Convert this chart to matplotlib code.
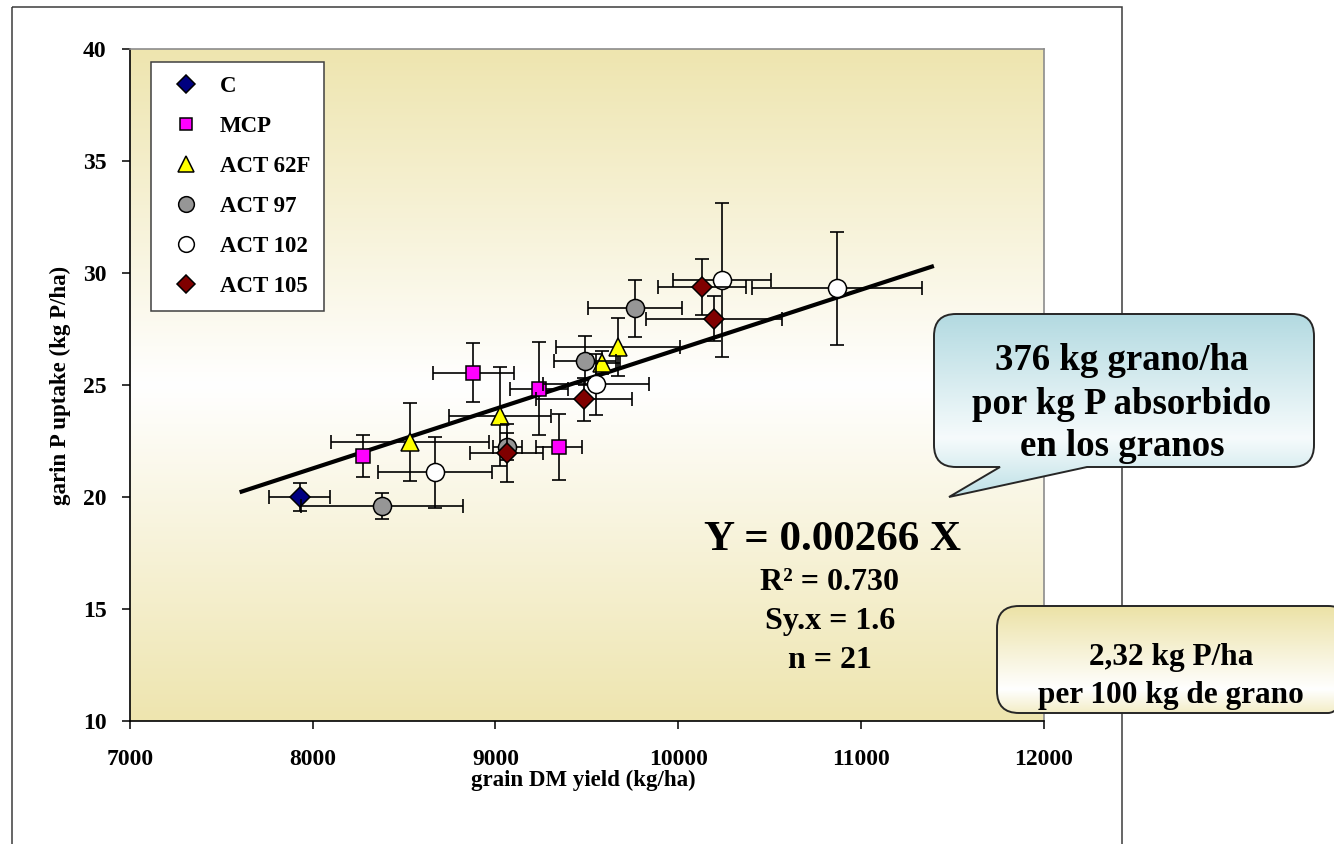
import numpy as np
import matplotlib
matplotlib.use("Agg")
import matplotlib.pyplot as plt
from matplotlib.colors import LinearSegmentedColormap
from matplotlib.path import Path
from matplotlib.patches import PathPatch, Rectangle
from matplotlib.lines import Line2D

# ---------------- data ----------------
series_names = ["C", "MCP", "ACT 62F", "ACT 97", "ACT 102", "ACT 105"]

c_x = [7930]
c_y = [20.0]
c_xerr = [167]
c_yerr = [0.62]

mcp_x = [8277, 8879, 9240, 9350]
mcp_y = [21.84, 25.56, 24.85, 22.25]
mcp_xerr = [30, 223, 158, 126]
mcp_yerr = [0.93, 1.33, 2.06, 1.47]

act62_x = [8533, 9025, 9582, 9673]
act62_y = [22.45, 23.6, 26.0, 26.71]
act62_xerr = [432, 278, 100, 340]
act62_yerr = [1.75, 2.2, 0.52, 1.31]

act97_x = [8378, 9065, 9490, 9764]
act97_y = [19.6, 22.25, 26.1, 28.43]
act97_xerr = [443, 80, 168, 256]
act97_yerr = [0.57, 0.6, 1.1, 1.26]

act102_x = [8669, 9549, 10239, 10871]
act102_y = [21.1, 25.03, 29.7, 29.33]
act102_xerr = [312, 290, 268, 465]
act102_yerr = [1.6, 1.37, 3.44, 2.53]

act105_x = [9062, 9485, 10132, 10196]
act105_y = [21.96, 24.37, 29.37, 27.96]
act105_xerr = [200, 262, 240, 374]
act105_yerr = [1.3, 0.96, 1.25, 1.0]

trend_x = [7600, 11400]
trend_slope = 0.00266

x_ticks = [7000, 8000, 9000, 10000, 11000, 12000]
y_ticks = [10, 15, 20, 25, 30, 35, 40]

eq_lines = ["Y = 0.00266 X", "R\u00b2 = 0.730", "Sy.x = 1.6", "n = 21"]
callout1_lines = ["376 kg grano/ha", "por kg P absorbido", "en los granos"]
callout2_lines = ["2,32 kg P/ha", "per 100 kg de grano"]

# ---------------- styles ----------------
SERIF = "Liberation Serif"
W, H = 1334, 844
fig = plt.figure(figsize=(W / 100, H / 100), dpi=100)
fig.patch.set_facecolor("white")

L, R, T, B = 130, 1043.5, 49.3, 721
ax = fig.add_axes([L / W, 1 - B / H, (R - L) / W, (B - T) / H])

# plot-area gradient
khaki = "#EEE5AF"
cm_plot = LinearSegmentedColormap.from_list("pa", [(0, khaki), (0.5, "#FFFFFF"), (1, khaki)])
grad = np.linspace(0, 1, 256).reshape(-1, 1)
ax.imshow(grad, cmap=cm_plot, extent=(7000, 12000, 10, 40), origin="upper",
          aspect="auto", interpolation="bicubic", zorder=0)

# trend line
tx = np.array(trend_x, dtype=float)
ax.plot(tx, trend_slope * tx, color="black", lw=3.0, zorder=2, solid_capstyle="butt")

styles = [
    (c_x, c_y, c_xerr, c_yerr, "D", "#000080", 10.5),
    (mcp_x, mcp_y, mcp_xerr, mcp_yerr, "s", "#FF00FF", 10),
    (act62_x, act62_y, act62_xerr, act62_yerr, "^", "#FFFF00", 13.5),
    (act97_x, act97_y, act97_xerr, act97_yerr, "o", "#969696", 13),
    (act102_x, act102_y, act102_xerr, act102_yerr, "o", "#FFFFFF", 13),
    (act105_x, act105_y, act105_xerr, act105_yerr, "D", "#800000", 10.5),
]

handles = []
for i, (xs, ys, xe, ye, mk, col, ms) in enumerate(styles):
    ax.errorbar(xs, ys, xerr=xe, yerr=ye, fmt="none", ecolor="black",
                elinewidth=1.2, capsize=4.7, capthick=1.2, zorder=3 + 2 * i)
    ax.plot(xs, ys, linestyle="none", marker=mk, markersize=ms,
            markerfacecolor=col, markeredgecolor="black", markeredgewidth=1.1,
            zorder=4 + 2 * i)
    handles.append(Line2D([], [], linestyle="none", marker=mk, markersize=ms * 0.87,
                          markerfacecolor=col, markeredgecolor="black",
                          markeredgewidth=1.1, label=series_names[i]))

ax.set_xlim(7000, 12000)
ax.set_ylim(10, 40)
ax.set_xticks(x_ticks)
ax.set_yticks(y_ticks)
ax.tick_params(direction="out", length=6, width=1.1, pad=11)
for lab in ax.get_xticklabels() + ax.get_yticklabels():
    lab.set_fontfamily(SERIF)
    lab.set_fontweight("bold")
    lab.set_fontsize(17)
ax.tick_params(axis="x", pad=14)

for s in ["left", "bottom"]:
    ax.spines[s].set_color("black")
    ax.spines[s].set_linewidth(1.2)
for s in ["top", "right"]:
    ax.spines[s].set_color("#8C8C8C")
    ax.spines[s].set_linewidth(1.2)

ax.set_xlabel("grain DM yield (kg/ha)", fontfamily=SERIF, fontweight="bold", fontsize=16.5)
ax.set_ylabel("garin P uptake (kg P/ha)", fontfamily=SERIF, fontweight="bold", fontsize=16.5)
ax.xaxis.set_label_coords((583 - L) / (R - L), -(780 - B) / (B - T))
ax.xaxis.label.set_va("center")
ax.yaxis.set_label_coords(-(L - 60) / (R - L), 0.5)
ax.yaxis.label.set_va("center")

leg = ax.legend(handles=handles, loc="upper left",
                bbox_to_anchor=((150.7 - L) / (R - L), (B - 61.7) / (B - T)),
                borderaxespad=0, borderpad=0.62, handlelength=1.8, handletextpad=0.6,
                labelspacing=0.83, fancybox=False, framealpha=1,
                prop={"family": SERIF, "weight": "bold", "size": 16.5})
leg.get_frame().set_edgecolor("#404040")
leg.get_frame().set_linewidth(1.1)
leg.set_zorder(20)

# ---------------- overlay (pixel coordinates) ----------------
ov = fig.add_axes([0, 0, 1, 1], zorder=10)
ov.set_xlim(0, W)
ov.set_ylim(H, 0)
ov.axis("off")
ov.patch.set_visible(False)

# outer chart frame
ov.add_patch(Rectangle((12, 7), 1122 - 12, 900, fill=False, edgecolor="#3C3C3C", lw=1.1))


def rounded_path(x0, y0, x1, y1, r, tail=None):
    verts = [(x0 + r, y0), (x1 - r, y0), (x1, y0), (x1, y0 + r),
             (x1, y1 - r), (x1, y1), (x1 - r, y1)]
    codes = [Path.MOVETO, Path.LINETO, Path.CURVE3, Path.CURVE3,
             Path.LINETO, Path.CURVE3, Path.CURVE3]
    if tail is not None:
        tr, tip, tl = tail
        verts += [(tr, y1), tip, (tl, y1)]
        codes += [Path.LINETO, Path.LINETO, Path.LINETO]
    verts += [(x0 + r, y1), (x0, y1), (x0, y1 - r), (x0, y0 + r), (x0, y0), (x0 + r, y0), (x0 + r, y0)]
    codes += [Path.LINETO, Path.CURVE3, Path.CURVE3, Path.LINETO, Path.CURVE3, Path.CURVE3, Path.CLOSEPOLY]
    return Path(verts, codes)


def gradient_shape(path, x0, x1, ytop, ybot, stops):
    cmap = LinearSegmentedColormap.from_list("g", stops)
    im = ov.imshow(grad, cmap=cmap, extent=(x0, x1, ybot, ytop), origin="upper",
                   aspect="auto", interpolation="bicubic", zorder=11)
    patch = PathPatch(path, facecolor="none", edgecolor="#262626", lw=1.4, zorder=12)
    ov.add_patch(patch)
    im.set_clip_path(patch)


# callout 1 (speech bubble)
p1 = rounded_path(934, 314, 1314, 467, 22, tail=(1087, (949, 497), 1000))
gradient_shape(p1, 934, 1314, 314, 497,
               [(0, "#B3DAE1"), (0.68, "#F6FBFC"), (1, "#BDE0E6")])
for i, t in enumerate(callout1_lines):
    ov.text(1122, 361 + i * 43, t, ha="center", va="center", fontfamily=SERIF,
            fontweight="bold", fontsize=26.5, zorder=13)

# callout 2
p2 = rounded_path(997, 606, 1350, 713, 22)
gradient_shape(p2, 997, 1350, 606, 713,
               [(0, "#ECE2A6"), (0.78, "#FFFFFF"), (1, "#F3EDC6")])
for i, t in enumerate(callout2_lines):
    ov.text(1171, 658 + i * 38, t, ha="center", va="center", fontfamily=SERIF,
            fontweight="bold", fontsize=22.5, zorder=13)

# regression equation text
ov.text(832, 540, eq_lines[0], ha="center", va="center", fontfamily=SERIF,
        fontweight="bold", fontsize=31, zorder=13)
for i, t in enumerate(eq_lines[1:]):
    ov.text(830, 583 + i * 39, t, ha="center", va="center", fontfamily=SERIF,
            fontweight="bold", fontsize=23, zorder=13)

ov.set_xlim(0, W)
ov.set_ylim(H, 0)

fig.savefig("out.png", dpi=100)
